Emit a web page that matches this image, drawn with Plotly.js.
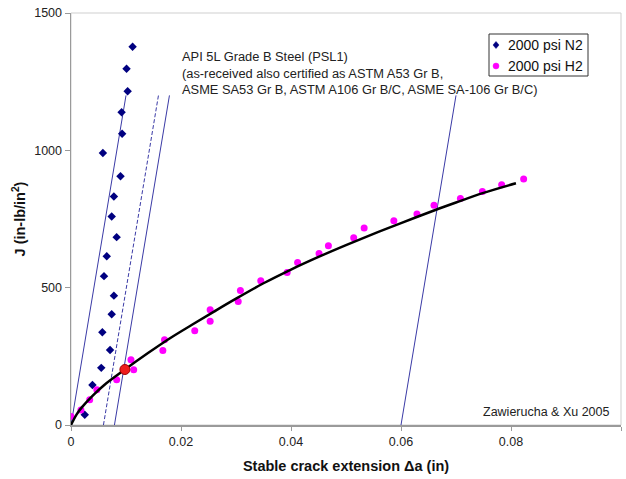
<!DOCTYPE html>
<html>
<head>
<meta charset="utf-8">
<script src="https://cdn.plot.ly/plotly-3.0.1.min.js"></script>
<style>html,body{margin:0;padding:0;background:#fff;}#chart{width:626px;height:479px;}</style>
</head>
<body>
<div id="chart"></div>
<script>
// Data
var n2Da = [0.0112,0.0101,0.0103,0.0092,0.0093,0.0058,0.0090,0.0078,0.0074,0.0083,0.0065,0.0060,0.0078,0.0074,0.0057,0.0071,0.0055,0.0039,0.0025];
var n2J  = [1377,1297,1215,1139,1060,990,906,832,759,684,614,542,471,403,338,273,208,146,37];

var h2Da = [0,0.0018,0.0034,0.0047,0.0083,0.0109,0.0114,0.0167,0.0170,0.0225,0.0253,0.0253,0.0304,0.0308,0.0345,0.0393,0.0412,0.0451,0.0468,0.0514,0.0533,0.0587,0.0629,0.0660,0.0708,0.0748,0.0783,0.0823];
var h2J  = [31,55,92,128,165,238,201,271,310,343,378,420,450,490,525,555,592,624,653,682,717,744,768,800,825,850,875,896];

// fitted curve, points
var fitDa = [0,0.001,0.002,0.004,0.006,0.0098,0.014,0.018,0.022,0.026,0.030,0.035,0.040,0.045,0.050,0.055,0.060,0.066,0.070,0.075,0.0809];
var fitJ  = [0,38,65,108,145,202,262,316,365,413,460,516,566,612,655,696,735,781,810,845,880];

var jqDa = [0.0098];
var jqJ  = [202];

var bluntDa = [0,0.01];
var bluntJ  = [0,1200];
var excl1Da = [0.0059,0.0159];
var excl1J  = [0,1200];
var excl2Da = [0.0079,0.0179];
var excl2J  = [0,1200];
var excl3Da = [0.06,0.07];
var excl3J  = [0,1200];

var xTickVals = [0,0.02,0.04,0.06,0.08,0.1];
var xTickText = ['0','0.02','0.04','0.06','0.08','0.1'];
var yTickVals = [0,500,1000,1500];
var yTickText = ['0','500','1000','1500'];

var seriesNames = ['2000 psi N2','2000 psi H2'];

var FONT = 'Arial, "Liberation Sans", sans-serif';
var LINE = '#3a3aa6';

var M = {l:71, r:5, t:13, b:54};
var W = 626, H = 479;
var PW = W - M.l - M.r, PH = H - M.t - M.b;
function px2x(px){ return (px - M.l) / PW; }
function px2y(py){ return (H - M.b - py) / PH; }

var traces = [
  {x: bluntDa, y: bluntJ, mode:'lines', line:{color:LINE, width:1}, hoverinfo:'skip', showlegend:false},
  {x: excl1Da, y: excl1J, mode:'lines', line:{color:LINE, width:1, dash:'4px,2px'}, hoverinfo:'skip', showlegend:false},
  {x: excl2Da, y: excl2J, mode:'lines', line:{color:LINE, width:1}, hoverinfo:'skip', showlegend:false},
  {x: excl3Da, y: excl3J, mode:'lines', line:{color:LINE, width:1}, hoverinfo:'skip', showlegend:false},
  {x: n2Da, y: n2J, mode:'markers', name: seriesNames[0], marker:{symbol:'diamond', size:6.5, color:'#000080'}, showlegend:false},
  {x: h2Da, y: h2J, mode:'markers', name: seriesNames[1], marker:{symbol:'circle', size:7, color:'#ff00ff'}, showlegend:false},
  {x: fitDa, y: fitJ, mode:'lines', line:{color:'#000000', width:2.5, shape:'spline'}, hoverinfo:'skip', showlegend:false},
  {x: jqDa, y: jqJ, mode:'markers', marker:{symbol:'circle', size:10, color:'#ee1c1c', line:{color:'#a00000', width:1}}, showlegend:false}
];

var lx0 = px2x(489), lx1 = px2x(588), ly0 = px2y(34), ly1 = px2y(76);
var mx = 496, r = 3;
var layout = {
  width: W, height: H,
  margin: M,
  paper_bgcolor:'#ffffff', plot_bgcolor:'#ffffff',
  font:{family:FONT, color:'#222222', size:12.5},
  showlegend:false,
  xaxis:{
    range:[0,0.1], tickvals:xTickVals, ticktext:xTickText,
    showgrid:false, zeroline:false,
    showline:true, linecolor:'#9a9a9a', linewidth:1.5,
    ticks:'outside', ticklen:4, tickcolor:'#9a9a9a',
    tickfont:{family:FONT, size:12.5, color:'#222'},
    title:{text:'<b>Stable crack extension Δa (in)</b>', font:{family:FONT, size:14.5, color:'#111'}, standoff:13}
  },
  yaxis:{
    range:[0,1500], tickvals:yTickVals, ticktext:yTickText,
    showgrid:false, zeroline:false,
    showline:true, linecolor:'#9a9a9a', linewidth:1.5,
    ticks:'outside', ticklen:5, tickcolor:'#9a9a9a',
    tickfont:{family:FONT, size:12.5, color:'#222'},
    title:{text:'<b>J (in-lb/in<sup>2</sup>)</b>', font:{family:FONT, size:14.5, color:'#111'}, standoff:5}
  },
  shapes:[
    {type:'rect', xref:'paper', yref:'paper', x0:0, x1:1, y0:0, y1:1, line:{color:'#cfcfcf', width:1}, layer:'below'},
    {type:'rect', xref:'paper', yref:'paper', x0:lx0, x1:lx1, y0:ly0, y1:ly1, line:{color:'#333333', width:1}, fillcolor:'#ffffff'},
    {type:'path', xref:'paper', yref:'paper',
      path:'M '+px2x(mx)+' '+px2y(45-r-0.5)+' L '+px2x(mx+r)+' '+px2y(45)+' L '+px2x(mx)+' '+px2y(45+r+0.5)+' L '+px2x(mx-r)+' '+px2y(45)+' Z',
      fillcolor:'#000080', line:{color:'#000080', width:0.5}},
    {type:'circle', xref:'paper', yref:'paper', x0:px2x(mx-r), x1:px2x(mx+r), y0:px2y(66+r), y1:px2y(66-r), fillcolor:'#ff00ff', line:{color:'#ff00ff', width:0.5}}
  ],
  annotations:[
    {xref:'paper', yref:'paper', x:px2x(506), y:px2y(45), xanchor:'left', yanchor:'middle', showarrow:false,
      text: seriesNames[0], font:{family:FONT, size:14, color:'#111'}},
    {xref:'paper', yref:'paper', x:px2x(506), y:px2y(66), xanchor:'left', yanchor:'middle', showarrow:false,
      text: seriesNames[1], font:{family:FONT, size:14, color:'#111'}},
    {xref:'paper', yref:'paper', x:px2x(180), y:px2y(73), xanchor:'left', yanchor:'middle', align:'left', showarrow:false,
      text:'API 5L Grade B Steel (PSL1)<br>(as-received also certified as ASTM A53 Gr B,<br>ASME SA53 Gr B, ASTM A106 Gr B/C, ASME SA-106 Gr B/C)',
      font:{family:FONT, size:12.85, color:'#222'}},
    {xref:'paper', yref:'paper', x:px2x(612), y:px2y(411.5), xanchor:'right', yanchor:'middle', showarrow:false,
      text:'Zawierucha &amp; Xu 2005', font:{family:FONT, size:12.5, color:'#222'}}
  ]
};

Plotly.newPlot('chart', traces, layout, {staticPlot:true, displayModeBar:false});
</script>
</body>
</html>
